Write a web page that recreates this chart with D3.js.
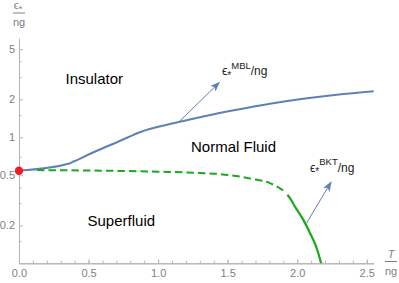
<!DOCTYPE html>
<html>
<head>
<meta charset="utf-8">
<script src="https://cdn.jsdelivr.net/npm/d3@7"></script>
<style>
  body { margin: 0; background: #fff; }
  svg { display: block; font-family: "Liberation Sans", Arial, sans-serif; }
  .tick text { fill: #808080; font-size: 11px; }
  .axis path, .axis line { stroke: #b4b4b4; }
</style>
</head>
<body>
<div class="chart"></div>
<script>
//----Data----
const xTicks = [0, 0.5, 1.0, 1.5, 2.0, 2.5]
const xMinor = d3.range(0.1, 2.55, 0.1)
const yTicks = [0.2, 0.5, 1, 2, 5]
const yMinor = [0.15, 0.3, 0.4, 0.7, 1.5, 3, 4]

// MBL line (blue)
const mblT = [0, 0.356, 0.392, 0.548, 0.716, 0.884, 1.086, 1.325, 1.565, 1.804, 2.044, 2.284, 2.56]
const mblE = [0.543, 0.616, 0.642, 0.771, 0.926, 1.112, 1.273, 1.463, 1.653, 1.845, 2.021, 2.175, 2.32]

// BKT line (green), dashed part then solid part
const bktDashT = [0.129, 0.5, 1.0, 1.3, 1.45, 1.6, 1.7, 1.804, 1.912]
const bktDashE = [0.549, 0.545, 0.533, 0.521, 0.510, 0.485, 0.462, 0.433, 0.371]
const bktSolidT = [1.93, 1.948, 1.984, 2.044, 2.092, 2.140, 2.169, 2.176]
const bktSolidE = [0.350, 0.329, 0.282, 0.221, 0.174, 0.132, 0.103, 0.096]

const startPoint = [0, 0.543]
const mblArrow = [[1.145, 1.31], [1.44, 2.72]]
const bktArrow = [[2.068, 0.209], [2.243, 0.44]]

//----Chart Initialization----
const W = 399, H = 283
const margin = ({top: 38.3, right: 25.3, bottom: 19.7, left: 19})
const width = W - margin.left - margin.right,
height = H - margin.top - margin.bottom

const svg = d3.select(".chart").append("svg")
    .attr("width", W)
    .attr("height", H)

const g = svg.append("g")
    .attr("transform", "translate(" + margin.left + "," + margin.top + ")")

const xScale = d3.scaleLinear().domain([0, 2.55]).range([0, width])
const yScale = d3.scaleLog().domain([0.1, 6.1]).range([height, 0])

g.append("defs").append("clipPath").attr("id", "clip")
    .append("rect").attr("width", width).attr("height", height)

// axes
const xAxis = d3.axisBottom(xScale)
    .tickValues(xTicks)
    .tickFormat(d3.format(".1f"))
    .tickSizeInner(-4).tickSizeOuter(0).tickPadding(6)

const xAxisMinor = d3.axisBottom(xScale)
    .tickValues(xMinor).tickFormat("")
    .tickSizeInner(-2.5).tickSizeOuter(0)

const yAxis = d3.axisLeft(yScale)
    .tickValues(yTicks)
    .tickFormat(d3.format("~g"))
    .tickSizeInner(-4).tickSizeOuter(0).tickPadding(4)

const yAxisMinor = d3.axisLeft(yScale)
    .tickValues(yMinor).tickFormat("")
    .tickSizeInner(-2.5).tickSizeOuter(0)

g.append("g").attr("class", "axis").attr("transform", `translate(0,${height})`).call(xAxisMinor)
g.append("g").attr("class", "axis").attr("transform", `translate(0,${height})`).call(xAxis)
g.append("g").attr("class", "axis").call(yAxisMinor)
g.append("g").attr("class", "axis").call(yAxis)
g.selectAll(".axis .domain").attr("stroke", "#b4b4b4")

// axis labels (fraction style)
function fracLabel(x, yTop, topNode, bottom) {
    const lab = svg.append("g").attr("fill", "#808080").attr("font-size", 11)
    topNode(lab, x, yTop)
    lab.append("line").attr("x1", x - 6).attr("x2", x + 6)
        .attr("y1", yTop + 3).attr("y2", yTop + 3)
        .attr("stroke", "#808080").attr("stroke-width", 1)
    lab.append("text").attr("x", x).attr("y", yTop + 16)
        .attr("text-anchor", "middle").text(bottom)
}
fracLabel(19, 10, (lab, x, y) => {
    const t = lab.append("text").attr("x", x - 1).attr("y", y - 1).attr("text-anchor", "middle")
    t.append("tspan").text("ϵ")
    t.append("tspan").attr("font-size", 9).attr("dy", 3).text("*")
}, "ng")
fracLabel(391, 258.5, (lab, x, y) => {
    lab.append("text").attr("x", x).attr("y", y - 1).attr("text-anchor", "middle")
        .attr("font-style", "italic").text("T")
}, "ng")

// curves
const line = d3.line()
    .x(d => xScale(d[0]))
    .y(d => yScale(d[1]))
    .curve(d3.curveMonotoneX)

const plot = g.append("g").attr("clip-path", "url(#clip)")

plot.append("path")
    .datum(mblT.map((t, i) => [t, mblE[i]]))
    .attr("d", line)
    .attr("fill", "none")
    .attr("stroke", "#5e81b5")
    .attr("stroke-width", 2)

plot.append("path")
    .datum(bktDashT.map((t, i) => [t, bktDashE[i]]))
    .attr("d", line)
    .attr("fill", "none")
    .attr("stroke", "#1aaa1a")
    .attr("stroke-width", 2)
    .attr("stroke-dasharray", "7.5,4")

plot.append("path")
    .datum(bktSolidT.map((t, i) => [t, bktSolidE[i]]))
    .attr("d", line)
    .attr("fill", "none")
    .attr("stroke", "#1aaa1a")
    .attr("stroke-width", 2.2)

// arrows
g.append("defs").append("marker")
    .attr("id", "head")
    .attr("viewBox", "0 0 10 10")
    .attr("refX", 9).attr("refY", 5)
    .attr("markerWidth", 10).attr("markerHeight", 10)
    .attr("markerUnits", "userSpaceOnUse")
    .attr("orient", "auto")
    .append("path").attr("d", "M0,1.2L10,5L0,8.8L2.5,5Z").attr("fill", "#5e81b5")

;[mblArrow, bktArrow].forEach(a => {
    g.append("line")
        .attr("x1", xScale(a[0][0])).attr("y1", yScale(a[0][1]))
        .attr("x2", xScale(a[1][0])).attr("y2", yScale(a[1][1]))
        .attr("stroke", "#5e81b5").attr("stroke-width", 1)
        .attr("marker-end", "url(#head)")
})

// start point
g.append("circle")
    .attr("cx", xScale(startPoint[0])).attr("cy", yScale(startPoint[1]))
    .attr("r", 4.2).attr("fill", "#ee1c24")

// region labels
const regions = [
    {text: "Insulator", x: 94.3, y: 84},
    {text: "Normal Fluid", x: 233.5, y: 151.5},
    {text: "Superfluid", x: 121.3, y: 226}
]
svg.selectAll(".region").data(regions).enter().append("text")
    .attr("class", "region")
    .attr("x", d => d.x).attr("y", d => d.y)
    .attr("text-anchor", "middle")
    .attr("font-size", 15)
    .attr("fill", "#000")
    .text(d => d.text)

// curve labels
function curveLabel(x, y, sup) {
    const t = svg.append("text").attr("x", x).attr("y", y).attr("font-size", 12).attr("fill", "#222")
    t.append("tspan").text("ϵ")
    t.append("tspan").attr("font-size", 10).attr("dy", 3.5).text("*")
    t.append("tspan").attr("font-size", 9.5).attr("dy", -10).text(sup)
    t.append("tspan").attr("font-size", 12).attr("dy", 6.5).text("/ng")
}
curveLabel(222, 75, "MBL")
curveLabel(310, 171.5, "BKT")
</script>
</body>
</html>
